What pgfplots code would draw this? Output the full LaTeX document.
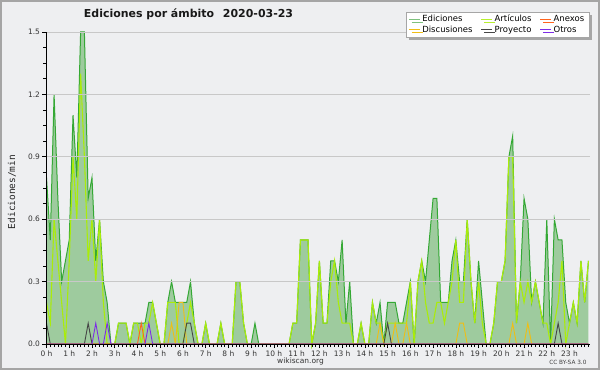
\documentclass[border=0pt]{standalone}
\usepackage{pgfplots}
\usepackage{pgfplotstable}
\usepackage{fontspec}
\pgfplotsset{compat=1.18}
\usetikzlibrary{shadows}
\setmainfont{DejaVu Sans}
\newfontfamily\monofont{DejaVu Sans Mono}
\definecolor{bgcol}{RGB}{238,239,241}
\definecolor{bordercol}{RGB}{165,165,165}
\definecolor{edfill}{RGB}{158,203,158}
\definecolor{edline}{RGB}{52,168,52}
\definecolor{artline}{RGB}{170,236,10}
\definecolor{discline}{RGB}{240,190,20}
\definecolor{proline}{RGB}{70,70,70}
\definecolor{anxline}{RGB}{255,100,30}
\definecolor{otrline}{RGB}{125,45,230}
\definecolor{gridcol}{RGB}{200,200,200}
\pgfplotstableread{
i ed art disc pro anx otr
0 0.8 0.2 0 0.1 0 0
1 0.5 0.1 0 0 0 0
2 1.2 0.6 0 0 0 0
3 0.7 0.4 0 0 0 0
4 0.3 0.2 0 0 0 0
5 0.4 0 0 0 0 0
6 0.5 0.4 0 0 0 0
7 1.1 0.9 0 0 0 0
8 0.8 0.6 0 0 0 0
9 1.5 1.3 0 0 0 0
10 1.5 0.9 0 0 0 0
11 0.7 0.4 0 0.1 0 0
12 0.8 0.6 0 0 0 0
13 0.4 0.3 0 0 0 0.1
14 0.6 0.6 0 0 0 0
15 0.3 0.2 0 0 0 0
16 0.2 0 0 0 0 0.1
17 0 0 0 0 0 0
18 0 0 0 0 0 0
19 0.1 0.1 0 0 0 0
20 0.1 0.1 0 0 0 0
21 0.1 0.1 0 0 0 0
22 0 0 0 0 0 0
23 0.1 0.1 0 0 0 0
24 0.1 0.1 0 0 0 0
25 0.1 0 0 0 0.1 0
26 0.1 0.1 0 0 0 0
27 0.2 0.1 0 0 0 0.1
28 0.2 0.2 0 0 0 0
29 0.1 0.1 0 0 0 0
30 0 0 0 0 0 0
31 0 0 0 0 0 0
32 0.2 0.2 0 0 0 0
33 0.3 0.2 0.1 0 0 0
34 0.2 0.2 0 0 0 0
35 0.2 0 0.2 0 0 0
36 0.2 0 0.2 0 0 0
37 0.2 0.1 0 0.1 0 0
38 0.3 0.2 0 0.1 0 0
39 0.1 0.1 0 0 0 0
40 0 0 0 0 0 0
41 0 0 0 0 0 0
42 0.1 0.1 0 0 0 0
43 0 0 0 0 0 0
44 0 0 0 0 0 0
45 0 0 0 0 0 0
46 0.1 0.1 0 0 0 0
47 0 0 0 0 0 0
48 0 0 0 0 0 0
49 0 0 0 0 0 0
50 0.3 0.3 0 0 0 0
51 0.3 0.3 0 0 0 0
52 0.1 0.1 0 0 0 0
53 0 0 0 0 0 0
54 0 0 0 0 0 0
55 0.1 0 0 0 0 0
56 0 0 0 0 0 0
57 0 0 0 0 0 0
58 0 0 0 0 0 0
59 0 0 0 0 0 0
60 0 0 0 0 0 0
61 0 0 0 0 0 0
62 0 0 0 0 0 0
63 0 0 0 0 0 0
64 0 0 0 0 0 0
65 0.1 0.1 0 0 0 0
66 0.1 0.1 0 0 0 0
67 0.5 0.5 0 0 0 0
68 0.5 0.5 0 0 0 0
69 0.5 0.5 0 0 0 0
70 0 0 0 0 0 0
71 0.1 0.1 0 0 0 0
72 0.4 0.4 0 0 0 0
73 0.1 0.1 0 0 0 0
74 0.1 0.1 0 0 0 0
75 0.4 0.3 0 0 0 0
76 0.4 0.4 0 0 0 0
77 0.3 0.2 0 0 0 0
78 0.5 0.1 0 0 0 0
79 0.1 0.1 0 0 0 0
80 0.3 0.1 0 0 0 0
81 0 0 0 0 0 0
82 0 0 0 0 0 0
83 0.1 0.1 0 0 0 0
84 0 0 0 0 0 0
85 0 0 0 0 0 0
86 0.2 0.2 0 0 0 0
87 0.1 0.1 0 0 0 0
88 0.2 0.1 0.1 0 0 0
89 0 0 0 0 0 0
90 0.2 0.1 0 0.1 0 0
91 0.2 0.1 0 0 0 0
92 0.2 0.1 0.1 0 0 0
93 0.1 0.1 0 0 0 0
94 0.1 0.1 0 0 0 0
95 0.2 0.1 0.1 0 0 0
96 0.3 0.3 0 0 0 0
97 0 0 0 0 0 0
98 0.3 0.3 0 0 0 0
99 0.4 0.4 0 0 0 0
100 0.3 0.2 0 0 0 0
101 0.5 0.1 0 0 0 0
102 0.7 0.1 0 0 0 0
103 0.7 0.2 0 0 0 0
104 0.2 0.2 0 0 0 0
105 0.2 0.1 0 0 0 0
106 0.2 0.2 0 0 0 0
107 0.4 0.3 0 0 0 0
108 0.5 0.5 0 0 0 0
109 0.3 0.2 0.1 0 0 0
110 0.3 0.2 0.1 0 0 0
111 0.6 0.6 0 0 0 0
112 0.3 0.3 0 0 0 0
113 0.1 0.1 0 0 0 0
114 0.4 0.3 0 0 0 0
115 0.2 0.1 0 0 0 0
116 0 0 0 0 0 0
117 0 0 0 0 0 0
118 0.1 0.1 0 0 0 0
119 0.3 0.3 0 0 0 0
120 0.3 0.3 0 0 0 0
121 0.4 0.4 0 0 0 0
122 0.9 0.9 0 0 0 0
123 1.0 0.9 0.1 0 0 0
124 0.1 0.1 0 0 0 0
125 0.3 0.3 0 0 0 0
126 0.7 0.2 0 0 0 0
127 0.6 0.3 0.1 0 0 0
128 0.2 0.2 0 0 0 0
129 0.3 0.3 0 0 0 0
130 0.2 0.2 0 0 0 0
131 0.1 0.1 0 0 0 0
132 0.6 0.1 0 0 0 0
133 0 0 0 0 0 0
134 0.6 0.1 0 0 0 0
135 0.5 0.2 0 0.1 0 0
136 0.5 0.4 0 0 0 0
137 0.2 0 0 0 0 0
138 0.1 0.1 0 0 0 0
139 0.2 0.2 0 0 0 0
140 0.1 0.1 0 0 0 0
141 0.4 0.4 0 0 0 0
142 0.2 0.2 0 0 0 0
143 0.4 0.4 0 0 0 0
}\data
\begin{document}
\begin{tikzpicture}
\useasboundingbox (0,0) rectangle (600bp,370bp);
\fill[bgcol] (0,0) rectangle (600bp,370bp);
\draw[bordercol, line width=2bp] (1bp,1bp) rectangle (599bp,369bp);
\begin{axis}[
  at={(46.5bp,26bp)}, anchor=south west,
  scale only axis, width=543.5bp, height=312bp,
  xmin=0, xmax=143.4, ymin=0, ymax=1.5,
  axis lines*=left,
  axis line style={black, line width=0.8bp, -},
  clip=false,
  axis on top,
  xtick={0,6,12,18,24,30,36,42,48,54,60,66,72,78,84,90,96,102,108,114,120,126,132,138},
  xticklabels={0 h,1 h,2 h,3 h,4 h,5 h,6 h,7 h,8 h,9 h,10 h,11 h,12 h,13 h,14 h,15 h,16 h,17 h,18 h,19 h,20 h,21 h,22 h,23 h},
  minor xtick={0,1,...,143},
  ytick={0,0.3,0.6,0.9,1.2,1.5},
  minor y tick num=3,
  tick align=outside,
  major tick length=4bp, minor tick length=3bp,
  tick style={black, line width=0.6bp},
  ymajorgrids, grid style={gridcol, line width=0.7bp},
  ticklabel style={font=\fontsize{7.5}{8}\selectfont, text=black!80},
  /pgf/number format/assume math mode=true,
  yticklabel style={/pgf/number format/fixed, /pgf/number format/precision=1, /pgf/number format/fixed zerofill, xshift=1bp},
  xticklabel style={yshift=0.5bp},
  legend columns=3,
  legend cell align=left,
  legend style={at={(0.998,1.064)}, anchor=north east, draw=gray!70, fill=white,
    font=\fontsize{8.5}{9}\selectfont, inner xsep=2.5bp, inner ysep=1bp,
    row sep=-1.5bp,
    /tikz/every even column/.style={column sep=6bp},
    drop shadow={shadow xshift=3bp, shadow yshift=-3bp, fill=gray!70, opacity=1}},
  legend image code/.code={\draw[#1, line width=1.1bp] (0bp,0.3bp) -- (11bp,0.3bp);},
]
\addlegendimage{edfill!70!edline}
\addlegendentry{Ediciones}
\addlegendimage{artline!85!white}
\addlegendentry{Artículos}
\addlegendimage{anxline}
\addlegendentry{Anexos}
\addlegendimage{discline}
\addlegendentry{Discusiones}
\addlegendimage{proline}
\addlegendentry{Proyecto}
\addlegendimage{otrline}
\addlegendentry{Otros}
\addplot[draw=none, fill=edfill, forget plot] table[x=i,y=ed]{\data} \closedcycle;
\addplot[edline, line width=1bp, forget plot] table[x=i,y=ed]{\data};
\addplot[artline, line width=1.1bp, forget plot] table[x=i,y=art]{\data};
\addplot[discline, line width=0.9bp, forget plot] table[x=i,y=disc]{\data};
\addplot[proline, line width=0.9bp, forget plot] table[x=i,y=pro]{\data};
\addplot[anxline, line width=0.9bp, forget plot] table[x=i,y=anx]{\data};
\addplot[otrline, line width=0.9bp, forget plot] table[x=i,y=otr]{\data};
\end{axis}
\node[font=\bfseries\fontsize{11}{12}\selectfont, text=black!90] at (188.5bp,356bp) {Ediciones por ámbito\hspace{0.8em}2020-03-23};
\node[font=\monofont\fontsize{9.5}{10}\selectfont, rotate=90, text=black!85] at (12bp,178bp) {Ediciones/min};
\node[font=\fontsize{7.5}{8}\selectfont, text=black!80] at (300.5bp,8.5bp) {wikiscan.org};
\node[font=\fontsize{5.8}{6}\selectfont, text=black!75, anchor=east] at (590bp,8bp) {CC BY-SA 3.0};
\end{tikzpicture}
\end{document}
